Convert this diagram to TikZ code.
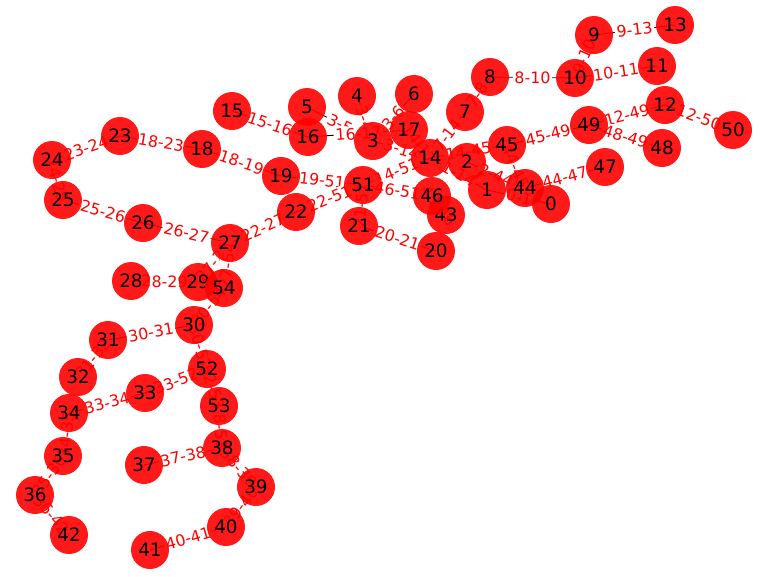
\documentclass[tikz,border=0pt]{standalone}
\usepackage{fontspec}
\setmainfont{DejaVu Sans}
\usetikzlibrary{backgrounds}

\begin{document}
\begin{tikzpicture}[x=0.02cm, y=-0.02cm,
    vertex/.style={circle, fill=red, fill opacity=0.9, text opacity=1, minimum size=0.76cm, inner sep=0pt, font=\fontsize{10.5}{12}\selectfont},
    link/.style={draw=black, line width=0.5pt},
    elabel/.style={sloped, fill=white, text=red, rounded corners=2pt, inner sep=1pt, font=\fontsize{9}{10}\selectfont}]
\useasboundingbox (0,0) rectangle (768,576);
% nodes
\node[vertex] (n0) at (551,204) {0};
\node[vertex] (n1) at (487,190) {1};
\node[vertex] (n2) at (467,162) {2};
\node[vertex] (n3) at (373,141) {3};
\node[vertex] (n4) at (357,96) {4};
\node[vertex] (n5) at (307,107) {5};
\node[vertex] (n6) at (414,94) {6};
\node[vertex] (n7) at (465,112) {7};
\node[vertex] (n8) at (490,77) {8};
\node[vertex] (n9) at (594,35) {9};
\node[vertex] (n10) at (575,78) {10};
\node[vertex] (n11) at (657,66) {11};
\node[vertex] (n12) at (665,105) {12};
\node[vertex] (n13) at (675,25) {13};
\node[vertex] (n14) at (430,158) {14};
\node[vertex] (n15) at (232,111) {15};
\node[vertex] (n16) at (308,137) {16};
\node[vertex] (n17) at (409,130) {17};
\node[vertex] (n18) at (202,149) {18};
\node[vertex] (n19) at (281,176) {19};
\node[vertex] (n20) at (436,251) {20};
\node[vertex] (n21) at (359,226) {21};
\node[vertex] (n22) at (296,212) {22};
\node[vertex] (n23) at (120,136) {23};
\node[vertex] (n24) at (52,160) {24};
\node[vertex] (n25) at (63,200) {25};
\node[vertex] (n26) at (143,223) {26};
\node[vertex] (n27) at (230,243) {27};
\node[vertex] (n28) at (131,281) {28};
\node[vertex] (n29) at (198,282) {29};
\node[vertex] (n30) at (194,325) {30};
\node[vertex] (n31) at (108,340) {31};
\node[vertex] (n32) at (78,377) {32};
\node[vertex] (n33) at (145,393) {33};
\node[vertex] (n34) at (69,413) {34};
\node[vertex] (n35) at (63,456) {35};
\node[vertex] (n36) at (35,495) {36};
\node[vertex] (n37) at (144,465) {37};
\node[vertex] (n38) at (222,448) {38};
\node[vertex] (n39) at (256,487) {39};
\node[vertex] (n40) at (226,527) {40};
\node[vertex] (n41) at (150,550) {41};
\node[vertex] (n42) at (69,535) {42};
\node[vertex] (n43) at (446,215) {43};
\node[vertex] (n44) at (525,188) {44};
\node[vertex] (n45) at (507,145) {45};
\node[vertex] (n46) at (432,196) {46};
\node[vertex] (n47) at (605,167) {47};
\node[vertex] (n48) at (662,148) {48};
\node[vertex] (n49) at (589,125) {49};
\node[vertex] (n50) at (733,130) {50};
\node[vertex] (n51) at (363,185) {51};
\node[vertex] (n52) at (207,369) {52};
\node[vertex] (n53) at (219,406) {53};
\node[vertex] (n54) at (224,288) {54};
% edges and their labels, under the nodes
\def\edgelist{0/1, 1/14, 2/44, 3/4, 3/5, 3/6, 3/14, 7/8, 7/14, 8/10, 9/10, 9/13, 10/11, 12/49, 12/50, 14/17, 14/45, 14/51, 15/16, 16/17, 18/19, 18/23, 19/51, 20/21, 21/51, 22/27, 22/51, 23/24, 24/25, 25/26, 26/27, 27/29, 27/54, 28/29, 30/31, 30/52, 30/54, 31/32, 33/34, 33/52, 34/35, 35/36, 36/42, 37/38, 38/39, 38/53, 39/40, 40/41, 43/46, 44/45, 44/47, 45/49, 46/51, 48/49, 52/53}
\begin{scope}[on background layer]
\foreach \a/\b in \edgelist
  \draw[link] (n\a.center) -- (n\b.center);
\foreach \a/\b in \edgelist
  \path (n\a.center) -- node[elabel] {\a-\b} (n\b.center);
\end{scope}
\end{tikzpicture}
\end{document}
